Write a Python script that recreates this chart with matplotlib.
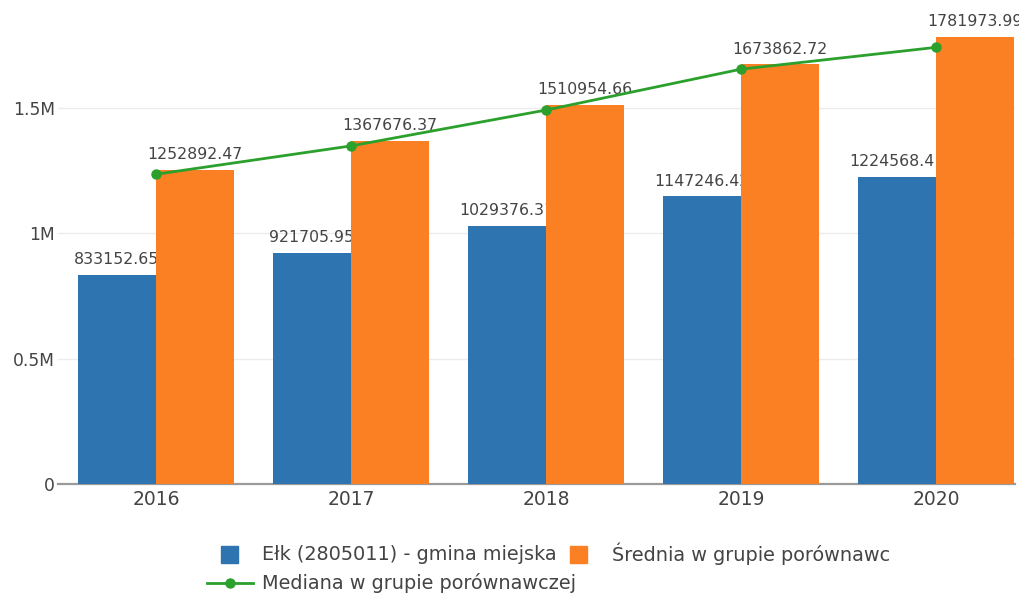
import matplotlib
matplotlib.use("Agg")
import matplotlib.pyplot as plt
from matplotlib.patches import Rectangle
from matplotlib.lines import Line2D
import numpy as np

# ---- data ----
years = ["2016", "2017", "2018", "2019", "2020"]
elk_values = [833152.65, 921705.95, 1029376.31, 1147246.42, 1224568.41]
avg_values = [1252892.47, 1367676.37, 1510954.66, 1673862.72, 1781973.99]
median_values = [1235000, 1348000, 1491000, 1654000, 1741000]
series_names = ["Ełk (2805011) - gmina miejska",
                "Średnia w grupie porównawc",
                "Mediana w grupie porównawczej"]
ytick_values = [0, 500000, 1000000, 1500000]
ytick_labels = ["0", "0.5M", "1M", "1.5M"]

BLUE = "#2e74b1"
ORANGE = "#fb7f23"
GREEN = "#2ca02c"
TXT = "#444444"

plt.rcParams['font.family'] = ['DejaVu Sans']

W, H = 1020, 593
fig = plt.figure(figsize=(W / 100, H / 100), dpi=100)

def fx(px):
    return px / W

def fy(py):
    return 1 - py / H

left_px, right_px, zero_px = 58.5, 1015, 484
cat_w = 195.0
ax = fig.add_axes([fx(left_px), fy(zero_px), (right_px - left_px) / W, zero_px / H])
ax.set_xlim(-0.5, -0.5 + (right_px - left_px) / cat_w)
ax.set_ylim(0, zero_px / 250.8e-6)

x = np.arange(len(years))
bw = 0.4
ax.bar(x - bw / 2, elk_values, width=bw, color=BLUE, zorder=2)
for xi, v in zip(x, elk_values):
    ax.annotate(f"{v:.2f}", (xi - bw / 2, v), xytext=(0, 5.5),
                textcoords="offset points", ha="center", va="bottom",
                fontsize=11.3, color=TXT, zorder=3, annotation_clip=False)
ax.bar(x + bw / 2, avg_values, width=bw, color=ORANGE, zorder=4)
for xi, v in zip(x, avg_values):
    ax.annotate(f"{v:.2f}", (xi + bw / 2, v), xytext=(0, 5.5),
                textcoords="offset points", ha="center", va="bottom",
                fontsize=11.3, color=TXT, zorder=5, annotation_clip=False)
ax.plot(x, median_values, color=GREEN, lw=2.0, marker="o", ms=6.5, zorder=6,
        clip_on=False)

ax.axhline(0, color="#9a9a9a", lw=1.6, zorder=1.5, clip_on=False)
ax.set_yticks(ytick_values)
ax.set_yticklabels(ytick_labels)
ax.set_xticks(x)
ax.set_xticklabels(years)
ax.grid(axis="y", color="#ececec", lw=1.0, zorder=0)
ax.set_axisbelow(True)
for s in ax.spines.values():
    s.set_visible(False)
ax.tick_params(axis="y", length=0, pad=2.5, labelsize=12.3, labelcolor=TXT)
ax.tick_params(axis="x", length=0, pad=4, labelsize=13.5, labelcolor=TXT)

# ---- legend (manual) ----
LFS = 13.9
fig.add_artist(Rectangle((fx(221), fy(563)), 17 / W, 17 / H,
                         transform=fig.transFigure, color=BLUE))
fig.text(fx(262), fy(554), series_names[0], ha="left", va="center",
         fontsize=LFS, color=TXT)
fig.add_artist(Rectangle((fx(570), fy(563)), 17 / W, 17 / H,
                         transform=fig.transFigure, color=ORANGE))
fig.text(fx(612), fy(554), series_names[1], ha="left", va="center",
         fontsize=LFS, color=TXT)
fig.add_artist(Line2D([fx(207), fx(253)], [fy(583), fy(583)],
                      transform=fig.transFigure, color=GREEN, lw=2.0))
fig.add_artist(Line2D([fx(230)], [fy(583)], transform=fig.transFigure,
                      color=GREEN, marker="o", ms=6.5))
fig.text(fx(262), fy(583), series_names[2], ha="left", va="center",
         fontsize=LFS, color=TXT)

fig.savefig("out.png", dpi=100, facecolor="white")
